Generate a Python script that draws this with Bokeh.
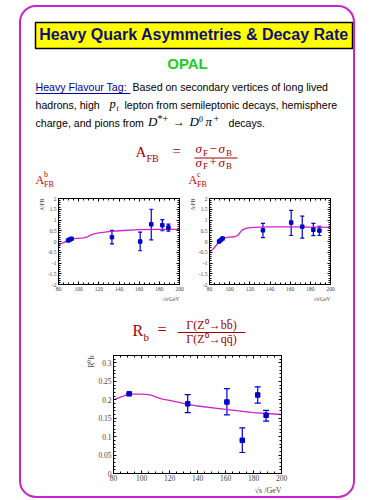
import numpy as np
from bokeh.plotting import figure
from bokeh.layouts import column, row
from bokeh.models import (Range1d, Label, LinearAxis, FixedTicker, Title, Whisker,
                          TeeHead, ColumnDataSource, Spacer)
from bokeh.embed import file_html
from bokeh.resources import INLINE

# ---------------- data ----------------
E_B = [89.5, 91.2, 92.9, 133.0, 161.0, 172.0, 183.0, 189.0]
AFB_B = [0.05, 0.09, 0.13, 0.20, 0.00, 0.80, 0.76, 0.65]
AFB_B_LO = [0.04, 0.08, 0.12, -0.11, -0.43, 0.08, 0.50, 0.48]
AFB_B_HI = [0.06, 0.10, 0.14, 0.52, 0.44, 1.50, 1.02, 0.81]

E_C = [89.5, 91.2, 92.9, 133.0, 161.0, 172.0, 183.0, 189.0]
AFB_C = [0.00, 0.07, 0.14, 0.52, 0.88, 0.69, 0.55, 0.51]
AFB_C_LO = [-0.01, 0.06, 0.13, 0.18, 0.28, 0.16, 0.27, 0.28]
AFB_C_HI = [0.01, 0.08, 0.15, 0.84, 1.45, 1.18, 0.84, 0.71]

E_RB = [91.2, 133.0, 161.0, 172.0, 183.0, 189.0]
RB = [0.216, 0.189, 0.194, 0.090, 0.213, 0.158]
RB_LO = [0.2155, 0.165, 0.159, 0.057, 0.191, 0.142]
RB_HI = [0.2165, 0.214, 0.230, 0.124, 0.235, 0.171]

SM_E = [80, 85, 88, 90, 92, 95, 100, 105, 108, 110, 112, 115, 120, 130, 140, 160, 180, 200]
SM_AFB_B = [-0.15, -0.05, 0.02, 0.06, 0.10, 0.13, 0.15, 0.17, 0.20, 0.25, 0.30, 0.35, 0.40,
            0.46, 0.50, 0.55, 0.56, 0.56]
SM_AFB_C = [-0.50, -0.28, -0.10, 0.00, 0.10, 0.17, 0.20, 0.22, 0.28, 0.40, 0.52, 0.60, 0.65,
            0.67, 0.68, 0.68, 0.67, 0.66]
SM_RB = [0.200, 0.207, 0.211, 0.214, 0.215, 0.215, 0.215, 0.214, 0.211, 0.208, 0.205, 0.202,
         0.198, 0.190, 0.183, 0.174, 0.165, 0.160]

X_TICKS = [80, 100, 120, 140, 160, 180, 200]
X_LABELS = ["80", "100", "120", "140", "160", "180", "200"]
SMALL_Y_TICKS = [-2, -1.5, -1, -0.5, 0, 0.5, 1, 1.5, 2]
SMALL_Y_LABELS = ["-2", "-1.5", "-1", "-0.5", "0", "0.5", "1", "1.5", "2"]
RB_Y_TICKS = [0, 0.05, 0.1, 0.15, 0.2, 0.25, 0.3]
RB_Y_LABELS = ["0", "0.05", "0.1", "0.15", "0.2", "0.25", "0.3"]

# ---------------- style ----------------
MAG = "#cc22cc"
BLUE = "#0000cc"
DARKRED = "#a00000"
RED = "#cc0000"
SERIF = "Liberation Serif"
SANS = "Liberation Sans"

X_MINOR = list(np.arange(80, 201, 5))
SMALL_Y_MINOR = list(np.round(np.arange(-2, 2.001, 0.1), 2))
RB_Y_MINOR = list(np.round(np.arange(0, 0.3201, 0.01), 3))

# page geometry: rounded magenta frame, content inside starts at (21, 7)
CX0, CY0, CW = 21, 7, 332


def textfig(y0, y1):
    p = figure(width=CW, height=y1 - y0, x_range=Range1d(CX0, CX0 + CW), y_range=Range1d(y1, y0),
               x_axis_type=None, y_axis_type=None, output_backend="svg", toolbar_location=None,
               min_border=0)
    p.outline_line_color = None
    p.background_fill_color = None
    p.border_fill_color = None
    return p


def lab(p, x, y, text, size, color="black", font=SANS, style="normal", align="left"):
    # y is the intended baseline (page px); labels are placed by their middle
    p.add_layout(Label(x=x, y=y - 0.35 * size, text=text, text_font=font,
                       text_font_size=f"{size}px", text_font_style=style, text_color=color,
                       text_align=align, text_baseline="middle"))


def style_axis(ax, fs, show_labels=True, standoff=2):
    ax.axis_line_color = "black"
    ax.major_tick_in = 3
    ax.major_tick_out = 0
    ax.minor_tick_in = 2
    ax.minor_tick_out = 0
    ax.major_tick_line_color = "black"
    ax.minor_tick_line_color = "black"
    ax.major_label_text_font = SERIF
    if show_labels:
        ax.major_label_text_font_size = f"{fs}px"
        ax.major_label_standoff = standoff
    else:
        ax.major_label_text_font_size = "0px"
        ax.major_label_text_color = None
        ax.major_label_standoff = 0


def data_fig(w, h, lb, rb, tb, bb, yr, yt, yl, ym, ylab, xlab, fs, tfs,
             xs, ys, lo, hi, cx, cy, msize, head, xstand=2):
    p = figure(width=w, height=h, x_range=Range1d(80, 200), y_range=Range1d(*yr),
               x_axis_type=None, y_axis_type=None, output_backend="svg", toolbar_location=None,
               min_border_left=lb, min_border_right=rb, min_border_top=tb, min_border_bottom=bb)
    p.outline_line_color = "black"
    p.background_fill_color = "white"
    p.border_fill_color = None
    xover = dict(zip(X_TICKS, X_LABELS))
    yover = dict(zip(yt, yl))
    bottom = LinearAxis(ticker=FixedTicker(ticks=X_TICKS, minor_ticks=X_MINOR),
                        major_label_overrides=xover)
    style_axis(bottom, fs, standoff=xstand)
    left = LinearAxis(ticker=FixedTicker(ticks=yt, minor_ticks=ym), major_label_overrides=yover)
    style_axis(left, fs)
    top = LinearAxis(ticker=FixedTicker(ticks=X_TICKS, minor_ticks=X_MINOR))
    style_axis(top, fs, False)
    right = LinearAxis(ticker=FixedTicker(ticks=yt, minor_ticks=ym))
    style_axis(right, fs, False)
    p.add_layout(bottom, "below")
    p.add_layout(left, "left")
    p.add_layout(top, "above")
    p.add_layout(right, "right")
    p.add_layout(Title(text=ylab, align="right", text_font=SERIF, text_font_size=f"{tfs}px",
                       text_font_style="normal", standoff=0), "left")
    p.add_layout(Title(text=xlab, align="right", text_font=SERIF, text_font_size=f"{tfs}px",
                       text_font_style="normal", standoff=0), "below")
    p.line(cx, cy, line_color=MAG, line_width=1.3)
    src = ColumnDataSource(dict(x=xs, y=ys, lo=lo, hi=hi))
    p.add_layout(Whisker(source=src, base="x", upper="hi", lower="lo", line_color=BLUE,
                         line_width=1.2,
                         upper_head=TeeHead(size=head, line_color=BLUE, line_width=1.2),
                         lower_head=TeeHead(size=head, line_color=BLUE, line_width=1.2)))
    p.scatter("x", "y", source=src, marker="square", size=msize, color=BLUE)
    return p


# ---------------- header ----------------
head = textfig(CY0, 190)
head.quad(left=[35], right=[352], top=[22], bottom=[48], fill_color="#ffff00",
          line_color="black", line_width=1.5)
lab(head, 193.5, 40, "Heavy Quark Asymmetries & Decay Rate", 16, "#10107a", style="bold",
    align="center")
lab(head, 187, 68, "OPAL", 15, "#22cc22", style="bold", align="center")

PF = 10.6
lab(head, 35, 90, "Heavy Flavour Tag:", PF, "#0000a0")
head.line([35, 130], [93, 93], line_color="#0000a0", line_width=1)
lab(head, 132, 90, "Based on secondary vertices of long lived", PF)
lab(head, 35, 108, "hadrons, high", PF)
lab(head, 109, 108, "p", 12.5, font=SERIF, style="italic")
lab(head, 116, 110.5, "t", 8, font=SERIF, style="italic")
lab(head, 124, 108, "lepton from semileptonic decays, hemisphere", PF)
lab(head, 35, 126, "charge, and pions from", PF)
lab(head, 147.5, 126, "D", 13, font=SERIF, style="italic")
lab(head, 157, 121.5, "*+", 10, font=SERIF)
lab(head, 172.5, 126, "\u2192", 12, font=SERIF)
lab(head, 189, 126, "D", 13, font=SERIF, style="italic")
lab(head, 198.5, 121, "0", 8, font=SERIF)
lab(head, 205, 126, "\u03c0", 13, font=SERIF, style="italic")
lab(head, 213, 121.5, "+", 10, font=SERIF)
lab(head, 228, 126, "decays.", PF)

# A_FB definition
lab(head, 135, 157, "A", 15, DARKRED, font=SERIF)
lab(head, 146, 161, "FB", 10, DARKRED, font=SERIF)
lab(head, 172, 156, "=", 15, DARKRED, font=SERIF)
lab(head, 195, 153, "\u03c3", 13, DARKRED, font=SERIF, style="italic")
lab(head, 202.5, 155.5, "F", 9, DARKRED, font=SERIF)
lab(head, 209, 153, "\u2212", 13, DARKRED, font=SERIF)
lab(head, 218, 153, "\u03c3", 13, DARKRED, font=SERIF, style="italic")
lab(head, 225.5, 155.5, "B", 9, DARKRED, font=SERIF)
head.line([194, 237], [157.5, 157.5], line_color=DARKRED, line_width=1)
lab(head, 195, 166.5, "\u03c3", 13, DARKRED, font=SERIF, style="italic")
lab(head, 202.5, 169, "F", 9, DARKRED, font=SERIF)
lab(head, 209, 166.5, "+", 13, DARKRED, font=SERIF)
lab(head, 218, 166.5, "\u03c3", 13, DARKRED, font=SERIF, style="italic")
lab(head, 225.5, 169, "B", 9, DARKRED, font=SERIF)

for x0, q in [(35, "b"), (188, "c")]:
    lab(head, x0, 184, "A", 12, RED, font=SERIF)
    lab(head, x0 + 8.5, 177, q, 8, RED, font=SERIF)
    lab(head, x0 + 8.5, 187, "FB", 8, RED, font=SERIF)

# ---------------- middle row (asymmetry plots) ----------------
pb = data_fig(148, 112, 22, 5, 8, 18, (-2, 2), SMALL_Y_TICKS, SMALL_Y_LABELS, SMALL_Y_MINOR,
              "A\u1d47FB", "\u221as/GeV", 5.5, 5.5,
              E_B, AFB_B, AFB_B_LO, AFB_B_HI, SM_E, SM_AFB_B, 3.5, 4)
pc = data_fig(161, 112, 25, 15, 8, 18, (-2, 2), SMALL_Y_TICKS, SMALL_Y_LABELS, SMALL_Y_MINOR,
              "A\u1d9cFB", "\u221as/GeV", 5.5, 5.5,
              E_C, AFB_C, AFB_C_LO, AFB_C_HI, SM_E, SM_AFB_C, 3.5, 4)

# ---------------- R_b definition ----------------
rbh = textfig(302, 350)
lab(rbh, 132, 336, "R", 16, DARKRED, font=SERIF)
lab(rbh, 143, 340, "b", 11, DARKRED, font=SERIF)
lab(rbh, 157, 335, "=", 16, DARKRED, font=SERIF)
lab(rbh, 211, 329, "\u0393(Z\u2070\u2192bb\u0304)", 12, DARKRED, font=SERIF, align="center")
rbh.line([177, 245], [332, 332], line_color=DARKRED, line_width=1)
lab(rbh, 211, 343, "\u0393(Z\u2070\u2192qq\u0304)", 12, DARKRED, font=SERIF, align="center")

# ---------------- bottom plot ----------------
prb = data_fig(220, 146, 33, 19, 5, 23, (0, 0.32), RB_Y_TICKS, RB_Y_LABELS, RB_Y_MINOR,
               "R\u2070b", "\u221as /GeV", 7.5, 8,
               E_RB, RB, RB_LO, RB_HI, SM_E, SM_RB, 4.5, 6, xstand=1)

boxed = column(head,
               row(Spacer(width=36 - CX0, height=112), pb, pc),
               rbh,
               row(Spacer(width=80 - CX0, height=146), prb),
               styles={"border": f"2px solid {MAG}", "border-radius": "17px"})

layout = column(Spacer(width=19, height=5), row(Spacer(width=19, height=489), boxed))

open("out.html", "w").write(file_html(layout, INLINE))
